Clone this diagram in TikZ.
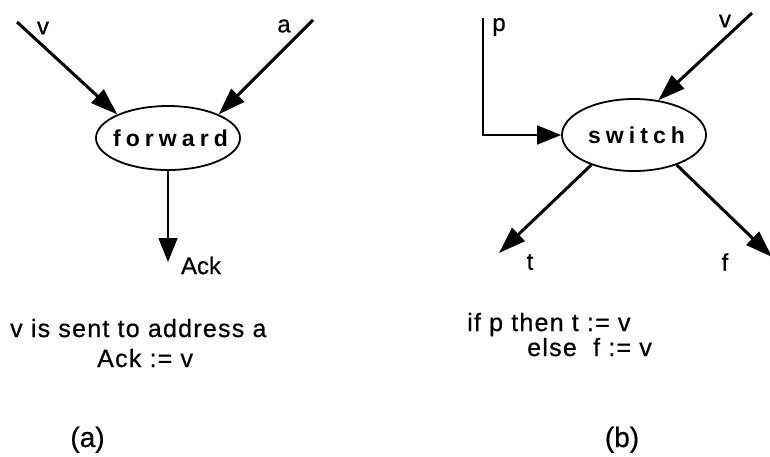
\documentclass[tikz,border=0pt]{standalone}
\usepackage{fontspec}
\setmainfont{Liberation Sans}
\newfontfamily\txtfont[LetterSpace=5,FakeBold=0.6]{Liberation Sans}
\newfontfamily\lblfont[FakeBold=0.6]{Liberation Sans}
\newfontfamily\boxfont[LetterSpace=22]{Liberation Sans}
\usetikzlibrary{arrows.meta,shapes.geometric}
\begin{document}
\begin{tikzpicture}[x=1pt,y=-1pt,
  thickarrow/.style={line width=3pt,-{Triangle[length=27pt,width=18pt]}},
  thinarrow/.style={line width=1.5pt,-{Triangle[length=24pt,width=19pt]}},
  opnode/.style={draw,ellipse,line width=1.8pt,inner sep=0pt},
  opfont/.style={font=\boxfont\bfseries\fontsize{23}{26}\selectfont},
  lbl/.style={font=\lblfont\fontsize{24}{28}\selectfont,inner sep=0pt},
  note/.style={font=\txtfont\fontsize{25}{30}\selectfont,inner sep=0pt,anchor=base west},
  caption/.style={font=\lblfont\fontsize{28}{32}\selectfont,inner sep=0pt,anchor=base},
]
\useasboundingbox (0,0) rectangle (770,456);

% (a) forward
\node[opnode,opfont,minimum width=144pt,minimum height=64pt] (fwd) at (168,138)
  {\makebox[0pt]{\hspace{5pt}forward}};
\coordinate (v1s) at (17,22);
\coordinate (a1s) at (313,20);
\coordinate (acke) at (168,262);
\draw[thickarrow] (v1s) -- (fwd.155);
\draw[thickarrow] (a1s) -- (fwd.25);
\draw[thinarrow] (fwd.south) -- (acke);
\node[lbl] (lv1) at (43,28) {v};
\node[lbl] (la) at (284,26) {a};
\node[lbl] (lack) at (201,265.5) {Ack};

% (b) switch
\node[opnode,opfont,minimum width=144pt,minimum height=72pt] (sw) at (634,135)
  {\makebox[0pt]{\hspace{5pt}switch}};
\coordinate (ps) at (483,18);
\coordinate (v2s) at (752,13);
\coordinate (te) at (499,253);
\coordinate (fe) at (772,257);
\draw[thinarrow] (ps) |- (sw.west);
\draw[thickarrow] (v2s) -- (sw.55);
\draw[thickarrow] (sw.215) -- (te);
\draw[thickarrow] (sw.-35) -- (fe);
\node[lbl] (lp) at (499,27) {p};
\node[lbl] (lv2) at (725,21) {v};
\node[lbl] (lt) at (530,262) {t};
\node[lbl] (lf) at (725,262) {f};

% notes
\node[note] (n1) at (10,337) {v is sent to address a};
\node[note] (n2) at (97,367) {Ack := v};
\node[note] (n3) at (467,331) {if p then t := v};
\node[note] (n4) at (527,356) {else\ \ f := v};

% captions
\node[caption] (ca) at (87.5,447) {(a)};
\node[caption] (cb) at (622,447) {(b)};
\end{tikzpicture}
\end{document}
